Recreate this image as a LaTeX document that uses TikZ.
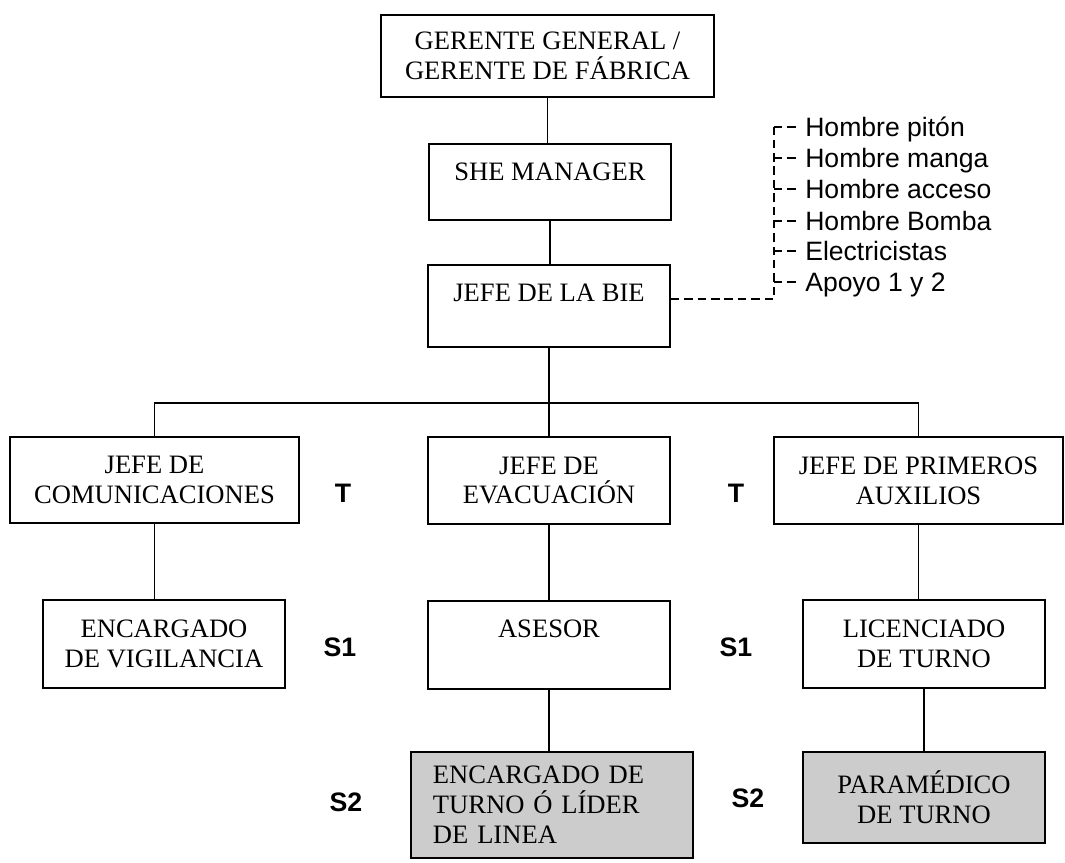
\documentclass[tikz,border=0pt]{standalone}
\usepackage{fontspec}
\setmainfont{Liberation Serif}
\newfontfamily\arialfont{Liberation Sans}
\newcommand{\orgboxfont}{\fontsize{18.9}{21.3}\selectfont}
\newcommand{\orgtagfont}{\arialfont\bfseries\fontsize{19}{22}\selectfont}
\newcommand{\orgmemberfont}{\arialfont\fontsize{18.9}{22}\selectfont}

\begin{document}
\begin{tikzpicture}[
        x=0.025cm, y=-0.025cm,
        box/.style={draw, rectangle, line width=1.4pt, align=center, font=\orgboxfont, inner sep=0pt},
        topbox/.style={box, text height=0.92cm, anchor=north},
        shadebox/.style={box, fill=black!20},
        levtag/.style={font=\orgtagfont, inner sep=0pt},
        member/.style={anchor=west, font=\orgmemberfont, inner xsep=0.225cm, inner ysep=0pt, text height=0.47cm, text depth=0pt},
        link/.style={line width=1.2pt},
        dashline/.style={line width=1.2pt, dash pattern=on 6pt off 3.5pt}
    ]
        \useasboundingbox (0,0) rectangle (1065,862);

        \node[box, minimum width=8.325cm, minimum height=2.05cm] (ger) at (547.5,56) {GERENTE GENERAL /\\GERENTE DE FÁBRICA};

        \node[topbox, text depth=0.99cm, minimum width=6.05cm] (she) at (550,143) {SHE MANAGER};

        \node[topbox, text depth=1.14cm, minimum width=6.05cm] (bie) at (549,264) {JEFE DE LA BIE};

        \node[box, minimum width=7.225cm, minimum height=2.15cm] (com) at (154.5,480) {JEFE DE\\COMUNICACIONES};
        \node[box, minimum width=6.025cm, minimum height=2.175cm] (evac) at (549,480.5) {JEFE DE\\EVACUACIÓN};
        \node[box, minimum width=7.225cm, minimum height=2.175cm] (aux) at (918.5,480.5) {JEFE DE PRIMEROS\\AUXILIOS};

        \node[box, minimum width=6.05cm, minimum height=2.2cm] (vig) at (164,644) {ENCARGADO\\DE VIGILANCIA};
        \node[topbox, text depth=1.29cm, minimum width=6.025cm] (ases) at (549,600) {ASESOR};
        \node[box, minimum width=6.05cm, minimum height=2.2cm] (lic) at (924,644) {LICENCIADO\\DE TURNO};

        \node[shadebox, align=left, text width=5.95cm, inner xsep=0.55cm, minimum height=2.65cm] (lider) at (552,805) {ENCARGADO DE\\TURNO Ó LÍDER\\DE LINEA};
        \node[shadebox, minimum width=6.05cm, minimum height=2.275cm] (para) at (924,797.5) {PARAMÉDICO\\DE TURNO};

        % niveles
        \node[levtag] (t1) at (343,493) {T};
        \node[levtag] (t2) at (736,493) {T};
        \node[levtag] (s1a) at (340,647) {S1};
        \node[levtag] (s1b) at (736,647) {S1};
        \node[levtag] (s2a) at (346,802) {S2};
        \node[levtag] (s2b) at (748,798) {S2};

        % brigada
        \node[member] (pit) at (796,127) {Hombre pitón};
        \node[member] (man) at (796,158) {Hombre manga};
        \node[member] (acc) at (796,189) {Hombre acceso};
        \node[member] (bom) at (796,221) {Hombre Bomba};
        \node[member] (ele) at (796,251) {Electricistas};
        \node[member] (apo) at (796,282) {Apoyo 1 y 2};

        \coordinate (bar) at (549,403);
        \coordinate (brk) at (774,299);

        \draw[link] (ger.south) -- (ger.south |- she.north);
        \draw[link] (she.south) -- (she.south |- bie.north);
        \draw[link] (bie.south) -- (evac.north);
        \draw[link] (com.north) |- (bar) -| (aux.north);
        \draw[link] (com.south) -- (com.south |- vig.north);
        \draw[link] (evac.south) -- (ases.north);
        \draw[link] (aux.south) -- (aux.south |- lic.north);
        \draw[link] (ases.south) -- (ases.south |- lider.north);
        \draw[link] (lic.south) -- (lic.south |- para.north);

        \draw[dashline] (bie.east |- brk) -- (brk) -- (brk |- pit.west);
        \foreach \m in {pit,man,acc,bom,ele,apo}
            \draw[dashline] (brk |- \m.west) -- (\m.west);
    \end{tikzpicture}
\end{document}
